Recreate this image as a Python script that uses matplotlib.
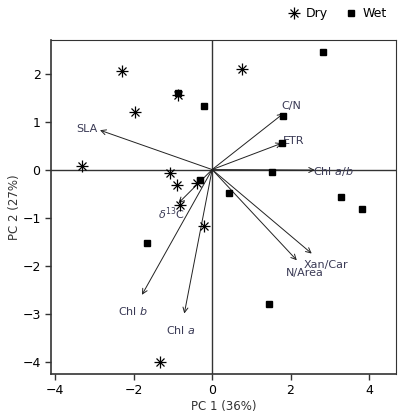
import numpy as np
import matplotlib
matplotlib.use("Agg")
import matplotlib.pyplot as plt
from matplotlib.lines import Line2D

# Точки: сухой сезон (Dry)
dry_x = [-2.30, -0.86, -1.96, -3.31, -1.07, -0.90, -0.39, -0.82, -0.22, 0.76, -1.33]
dry_y = [2.05, 1.55, 1.20, 0.07, -0.07, -0.32, -0.29, -0.74, -1.17, 2.09, -4.02]

# Точки: влажный сезон (Wet)
wet_x = [-0.86, -0.20, -0.31, 0.44, 2.82, 1.82, 1.78, 1.52, 3.28, 3.82, -1.65, 1.46]
wet_y = [1.59, 1.33, -0.22, -0.48, 2.44, 1.12, 0.55, -0.06, -0.58, -0.82, -1.52, -2.80]

# Векторы нагрузок
var_names = ["SLA", "C/N", "ETR", "Chl $\\it{a/b}$", "Xan/Car", "N/Area",
             "Chl $\\it{b}$", "Chl $\\it{a}$", "$\\delta^{13}$C"]
arrow_x = [-2.86, 1.82, 1.78, 2.62, 2.54, 2.16, -1.79, -0.71, -0.86]
arrow_y = [0.82, 1.17, 0.55, -0.01, -1.75, -1.89, -2.61, -3.00, -0.70]
label_x = [-3.20, 2.03, 2.07, 3.10, 2.90, 2.36, -2.01, -0.80, -1.03]
label_y = [0.84, 1.32, 0.59, -0.04, -1.98, -2.15, -2.95, -3.34, -0.91]

x_ticks = [-4, -2, 0, 2, 4]
y_ticks = [-4, -3, -2, -1, 0, 1, 2]

fig = plt.figure(figsize=(4.0, 4.17), dpi=100)
ax = fig.add_axes([51 / 400, 43 / 417, 345 / 400, 334 / 417])

ax.axhline(0, color="#333333", lw=1.0, zorder=1)
ax.axvline(0, color="#333333", lw=1.0, zorder=1)

for i in range(len(var_names)):
    ax.annotate("", xy=(arrow_x[i], arrow_y[i]), xytext=(0, 0),
                arrowprops=dict(arrowstyle="->", color="#222222", lw=0.7,
                                shrinkA=0, shrinkB=0, mutation_scale=9))
    ax.text(label_x[i], label_y[i], var_names[i], fontsize=8, color="#3a3a55",
            ha="center", va="center")

ax.plot(dry_x, dry_y, ls="none", marker="+", ms=8, mew=0.9, color="black", zorder=3)
ax.plot(dry_x, dry_y, ls="none", marker="x", ms=5.5, mew=0.9, color="black", zorder=3)
ax.plot(wet_x, wet_y, ls="none", marker="s", ms=5, color="black", zorder=3)

ax.set_xlim(-4.11, 4.69)
ax.set_ylim(-4.26, 2.70)
ax.set_xticks(x_ticks)
ax.set_yticks(y_ticks)
ax.tick_params(direction="out", length=4, width=1, labelsize=9, color="#333333")
ax.spines["left"].set_linewidth(1.2)
ax.spines["bottom"].set_linewidth(1.2)
ax.spines["top"].set_linewidth(0.8)
ax.spines["right"].set_linewidth(0.8)
for s in ax.spines.values():
    s.set_color("#333333")

ax.set_xlabel("PC 1 (36%)", fontsize=8.5, color="#333333", labelpad=2)
ax.set_ylabel("PC 2 (27%)", fontsize=8.5, color="#333333", labelpad=1)

h_dry = (Line2D([], [], ls="none", marker="+", ms=8, mew=0.9, color="black"),
         Line2D([], [], ls="none", marker="x", ms=5.5, mew=0.9, color="black"))
h_wet = Line2D([], [], ls="none", marker="s", ms=4.5, color="black")
fig.legend([h_dry, h_wet], ["Dry", "Wet"], loc="upper right", ncol=2,
           bbox_to_anchor=(0.995, 1.01), frameon=False, fontsize=9,
           handlelength=1.0, handletextpad=0.4, columnspacing=1.4)

fig.savefig("out.png", dpi=100)
